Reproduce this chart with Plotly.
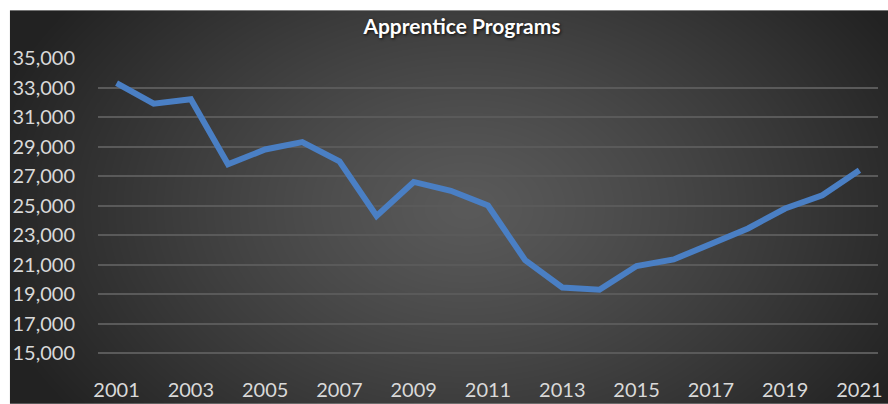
import base64
import struct
import zlib

import numpy as np
import plotly.graph_objects as go

# ---- data ----
years = list(range(2001, 2022))
apprentices = [33300, 31900, 32200, 27800, 28800, 29300, 28000, 24300, 26600, 26000,
               25000, 21300, 19450, 19300, 20900, 21350, 22400, 23450, 24800, 25700, 27400]
x_ticks = list(range(2001, 2022, 2))
y_ticks = list(range(15000, 35001, 2000))
title_text = "Apprentice Programs"

# ---- layout geometry (pixels) ----
W, H = 888, 404
Y_MIN, Y_MAX = 13450, 35000
PX_PER_UNIT = 295.6 / 20000
L, R, T = 98, 10.4, 57.7
B = H - (T + (Y_MAX - Y_MIN) * PX_PER_UNIT)
pw, ph = W - L - R, H - T - B
# dark chart area occupies (10,10)-(888,404)
ax0, ay0, ax1, ay1 = 10, 10, 888, 404


def gradient_png(w, h):
    yy, xx = np.mgrid[0:h, 0:w].astype(float)
    cx, cy = w * 0.52, h * 0.5
    r = np.sqrt(((xx - cx) / (w * 0.55)) ** 2 + ((yy - cy) / (h * 0.85)) ** 2)
    v = 90 - 54 * np.clip(r, 0, 1.3) ** 1.2
    v = np.clip(v, 34, 255).astype(np.uint8)
    raw = b"".join(b"\x00" + row.tobytes() for row in v)

    def chunk(tag, data):
        c = struct.pack(">I", len(data)) + tag + data
        return c + struct.pack(">I", zlib.crc32(tag + data) & 0xFFFFFFFF)

    png = b"\x89PNG\r\n\x1a\n"
    png += chunk(b"IHDR", struct.pack(">IIBBBBB", w, h, 8, 0, 0, 0, 0))
    png += chunk(b"IDAT", zlib.compress(raw, 9))
    png += chunk(b"IEND", b"")
    return "data:image/png;base64," + base64.b64encode(png).decode()


bg = gradient_png(ax1 - ax0, ay1 - ay0)

fig = go.Figure()
fig.add_trace(go.Scatter(
    x=years, y=apprentices, mode="lines",
    line=dict(color="#4a7fc4", width=6, shape="linear"),
    hoverinfo="x+y",
))

fig.update_layout(
    width=W, height=H,
    margin=dict(l=L, r=R, t=T, b=B, pad=0, autoexpand=False),
    paper_bgcolor="white",
    plot_bgcolor="rgba(0,0,0,0)",
    showlegend=False,
    font=dict(family="Lato, Open Sans, sans-serif", color="#d9d9d9", size=20),
    title=dict(
        text="<b>" + title_text + "</b>",
        x=462 / W, xref="container", xanchor="center",
        y=1 - 27 / H, yref="container", yanchor="middle",
        font=dict(family="Lato, Open Sans, sans-serif", size=21, color="white",
                  shadow="1px 1px 3px rgba(0,0,0,0.8)"),
    ),
    images=[dict(
        source=bg, xref="paper", yref="paper",
        x=(ax0 - L) / pw, y=1 + (T - ay0) / ph,
        sizex=(ax1 - ax0) / pw, sizey=(ay1 - ay0) / ph,
        xanchor="left", yanchor="top", sizing="stretch", layer="below",
    )],
    xaxis=dict(
        range=[2000.5, 2021.5], tickvals=x_ticks, ticktext=[str(v) for v in x_ticks],
        showgrid=False, zeroline=False, showline=False, ticks="",
        automargin=False,
        tickfont=dict(size=20, color="#d9d9d9"),
    ),
    yaxis=dict(
        range=[Y_MIN, Y_MAX], tickvals=y_ticks, tickformat=",d",
        showgrid=True, gridcolor="#5a5a5a", gridwidth=1.5,
        zeroline=False, showline=False, ticks="",
        automargin=False,
        ticklabelstandoff=22,
        tickfont=dict(size=20, color="#d9d9d9"),
    ),
)

fig.write_html("out.html")
